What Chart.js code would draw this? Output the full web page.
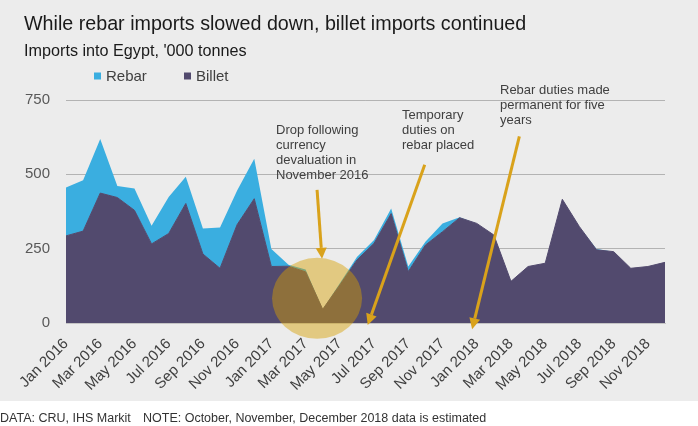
<!DOCTYPE html>
<html>
<head>
<meta charset="utf-8">
<script src="https://cdn.jsdelivr.net/npm/chart.js@4.4.1/dist/chart.umd.min.js"></script>
<style>
  html, body { margin: 0; padding: 0; background: #fff; }
  #wrap { width: 698px; height: 426px; position: relative; }
</style>
</head>
<body>
<div id="wrap"><canvas id="chart"></canvas></div>
<script>
// months Jan 2016 - Dec 2018, '000 tonnes
const months = [
    "Jan 2016", "Feb 2016", "Mar 2016", "Apr 2016", "May 2016", "Jun 2016",
    "Jul 2016", "Aug 2016", "Sep 2016", "Oct 2016", "Nov 2016", "Dec 2016",
    "Jan 2017", "Feb 2017", "Mar 2017", "Apr 2017", "May 2017", "Jun 2017",
    "Jul 2017", "Aug 2017", "Sep 2017", "Oct 2017", "Nov 2017", "Dec 2017",
    "Jan 2018", "Feb 2018", "Mar 2018", "Apr 2018", "May 2018", "Jun 2018",
    "Jul 2018", "Aug 2018", "Sep 2018", "Oct 2018", "Nov 2018", "Dec 2018"
];
const billet = [
    293, 309, 437, 422, 379, 266, 301, 402, 232, 184, 331, 418,
    190, 191, 172, 46, 128, 212, 268, 368, 173, 262, 307, 354,
    335, 296, 140, 190, 201, 416, 324, 246, 240, 184, 190, 204
];
const rebar = [
    163, 171, 182, 39, 73, 61, 123, 90, 86, 137, 115, 134,
    59, 5, 8, 0, 6, 10, 11, 17, 17, 11, 28, 2,
    0, 0, 0, 0, 0, 0, 0, 3, 0, 0, 0, 0
];
const yTicks = [0, 250, 500, 750];

const notes = [
    {lines: ["Drop following", "currency", "devaluation in", "November 2016"], x: 276, y: 130},
    {lines: ["Temporary", "duties on", "rebar placed"], x: 402, y: 115},
    {lines: ["Rebar duties made", "permanent for five", "years"], x: 500, y: 90}
];
// arrows in data space: [month index, value]
const arrows = [
    {from: [14.67, 448], to: [14.96, 216]},
    {from: [20.96, 532], to: [17.63, -7]},
    {from: [26.49, 628], to: [23.73, -21]}
];
const spot = {at: [14.67, 83], rx: 45, ry: 40.5};

const gold = "#d9a21b";
const blue = "#3aaee0";
const purple = "#524a6e";
const font = '"Liberation Sans", Arial, sans-serif';

const background = {
    id: "background",
    beforeDraw(chart) {
        const ctx = chart.ctx;
        ctx.save();
        ctx.fillStyle = "#ffffff";
        ctx.fillRect(0, 0, chart.width, chart.height);
        ctx.fillStyle = "#ececec";
        ctx.fillRect(0, 0, chart.width, 401);
        ctx.restore();
    }
};

function arrow(ctx, x1, y1, x2, y2) {
    const a = Math.atan2(y2 - y1, x2 - x1);
    const len = 11, half = 5.5;
    const bx = x2 - Math.cos(a) * len, by = y2 - Math.sin(a) * len;
    ctx.beginPath();
    ctx.moveTo(x1, y1);
    ctx.lineTo(bx, by);
    ctx.stroke();
    ctx.beginPath();
    ctx.moveTo(x2, y2);
    ctx.lineTo(bx + Math.sin(a) * half, by - Math.cos(a) * half);
    ctx.lineTo(bx - Math.sin(a) * half, by + Math.cos(a) * half);
    ctx.closePath();
    ctx.fill();
}

const decorations = {
    id: "decorations",
    afterDraw(chart) {
        const ctx = chart.ctx;
        const xs = chart.scales.x, ys = chart.scales.y;
        ctx.save();

        // highlight circle
        ctx.fillStyle = "rgba(215,160,0,0.45)";
        ctx.beginPath();
        ctx.ellipse(xs.getPixelForValue(spot.at[0]), ys.getPixelForValue(spot.at[1]),
            spot.rx, spot.ry, 0, 0, Math.PI * 2);
        ctx.fill();

        // arrows
        ctx.strokeStyle = gold;
        ctx.fillStyle = gold;
        ctx.lineWidth = 3;
        arrows.forEach(a => {
            arrow(ctx,
                xs.getPixelForValue(a.from[0]), ys.getPixelForValue(a.from[1]),
                xs.getPixelForValue(a.to[0]), ys.getPixelForValue(a.to[1]));
        });

        // notes
        ctx.fillStyle = "#404040";
        ctx.font = "13px " + font;
        ctx.textBaseline = "middle";
        ctx.textAlign = "left";
        notes.forEach(n => {
            n.lines.forEach((t, i) => ctx.fillText(t, n.x, n.y + i * 15));
        });

        // title, subtitle
        ctx.textBaseline = "alphabetic";
        ctx.fillStyle = "#1a1a1a";
        ctx.font = "19.7px " + font;
        ctx.fillText("While rebar imports slowed down, billet imports continued", 24, 30);
        ctx.font = "16.2px " + font;
        ctx.fillText("Imports into Egypt, '000 tonnes", 24, 56);

        // legend
        ctx.font = "15px " + font;
        const legend = [["Rebar", blue, 94], ["Billet", purple, 184]];
        legend.forEach(l => {
            ctx.fillStyle = l[1];
            ctx.fillRect(l[2], 72.5, 7, 7);
            ctx.fillStyle = "#404040";
            ctx.fillText(l[0], l[2] + 12, 81);
        });

        // footer
        ctx.fillStyle = "#333333";
        ctx.font = "12.5px " + font;
        ctx.fillText("DATA: CRU, IHS Markit", 0, 422);
        ctx.fillText("NOTE: October, November, December 2018 data is estimated", 143, 422);

        ctx.restore();
    }
};

new Chart(document.getElementById("chart"), {
    type: "line",
    data: {
        labels: months,
        datasets: [{
            label: "Billet",
            data: billet,
            fill: "origin",
            backgroundColor: purple,
            borderColor: purple,
            borderWidth: 1,
            pointRadius: 0,
            tension: 0
        }, {
            label: "Rebar",
            data: rebar,
            fill: "-1",
            backgroundColor: blue,
            borderColor: "rgba(0,0,0,0)",
            borderWidth: 0,
            pointRadius: 0,
            tension: 0
        }]
    },
    options: {
        responsive: true,
        maintainAspectRatio: false,
        animation: false,
        events: [],
        layout: {padding: {left: 0, top: 100, right: 33, bottom: 0}},
        plugins: {
            legend: {display: false},
            title: {display: false},
            tooltip: {enabled: false}
        },
        scales: {
            x: {
                offset: false,
                grid: {display: false},
                border: {display: true, color: "#c4c4c4"},
                ticks: {
                    autoSkip: false,
                    maxRotation: 45,
                    minRotation: 45,
                    color: "#404040",
                    font: {family: font, size: 15},
                    padding: 4,
                    callback: (v, i) => (i % 2 === 0 ? months[i] : "")
                },
                afterFit: s => { s.height = 103; }
            },
            y: {
                stacked: true,
                min: 0,
                max: 750,
                z: 1,
                afterBuildTicks: s => { s.ticks = yTicks.map(v => ({value: v})); },
                grid: {color: "rgba(0,0,0,0.24)", drawTicks: false},
                border: {display: false},
                ticks: {
                    color: "#595959",
                    padding: 16,
                    font: {family: font, size: 15}
                },
                afterFit: s => { s.width = 66; }
            }
        }
    },
    plugins: [background, decorations]
});
</script>
</body>
</html>
